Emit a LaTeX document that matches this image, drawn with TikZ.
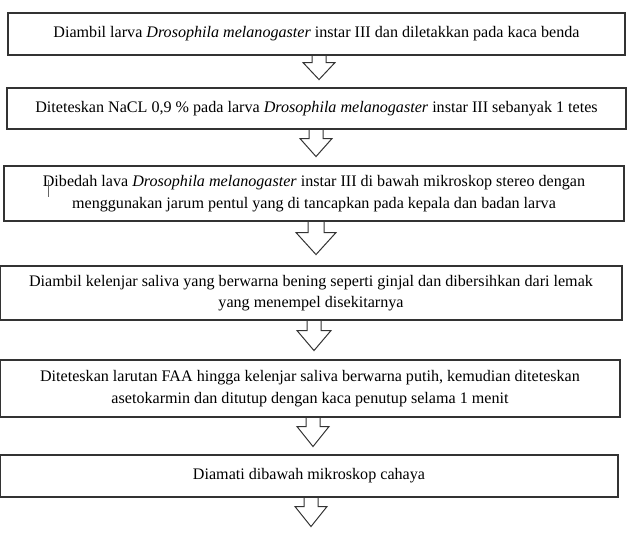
\documentclass[tikz,border=0pt]{standalone}
\usepackage{fontspec}
\setmainfont{Liberation Serif}
\begin{document}
\begin{tikzpicture}[x=1pt,y=-1pt,
  box/.style={draw=black!80,line width=1.1pt,fill=white,align=center,inner sep=0pt,
    font=\fontsize{16.1}{21.5}\selectfont,text=black},
  arrowline/.style={draw=black!80,line width=1pt,line join=miter}]
\useasboundingbox (0,0) rectangle (629,539);
\node[box,minimum width=617pt,minimum height=42pt] (b1) at (316.5,34)
  {Diambil larva \textit{Drosophila melanogaster} instar III dan diletakkan pada kaca benda};
\node[box,minimum width=619pt,minimum height=41pt] (b2) at (316.5,108.5)
  {Diteteskan NaCL 0,9 \% pada larva \textit{Drosophila melanogaster} instar III sebanyak 1 tetes};
\node[box,minimum width=620pt,minimum height=55pt] (b3) at (314,193.5)
  {Dibedah lava \textit{Drosophila melanogaster} instar III di bawah mikroskop stereo dengan\\
   menggunakan jarum pentul yang di tancapkan pada kepala dan badan larva};
\node[box,minimum width=622pt,minimum height=54pt] (b4) at (311,293)
  {Diambil kelenjar saliva yang berwarna bening seperti ginjal dan dibersihkan dari lemak\\
   yang menempel disekitarnya};
\node[box,minimum width=620pt,minimum height=57pt] (b5) at (310,388.5)
  {Diteteskan larutan FAA hingga kelenjar saliva berwarna putih, kemudian diteteskan\\
   asetokarmin dan ditutup dengan kaca penutup selama 1 menit};
\node[box,minimum width=618pt,minimum height=42pt] (b6) at (309,476)
  {Diamati dibawah mikroskop cahaya};
% cursor mark in box 3
\coordinate (cur) at (48,180);
\draw[black!60,line width=0.6pt] (cur) -- ++(0,17);
% block arrows
\newcommand\blkarrow[6]{% node, cx, stem, head, stem half, wing half
  \coordinate (ac) at (#2,0);
  \draw[arrowline] (ac |- #1.south) ++(-#5,0) -- ++(0,#3) -- ++(#5-#6,0)
    -- ++(#6,#4) -- ++(#6,-#4) -- ++(#5-#6,0) -- ++(0,-#3);}
\blkarrow{b1}{319}{7}{17}{7}{16}
\blkarrow{b2}{316}{9}{18}{7}{16}
\blkarrow{b3}{316}{11}{22}{8}{20}
\blkarrow{b4}{314}{10}{20}{7}{17}
\blkarrow{b5}{313}{9}{20}{7}{16}
\blkarrow{b6}{311}{9}{20}{7}{16}
\end{tikzpicture}
\end{document}
